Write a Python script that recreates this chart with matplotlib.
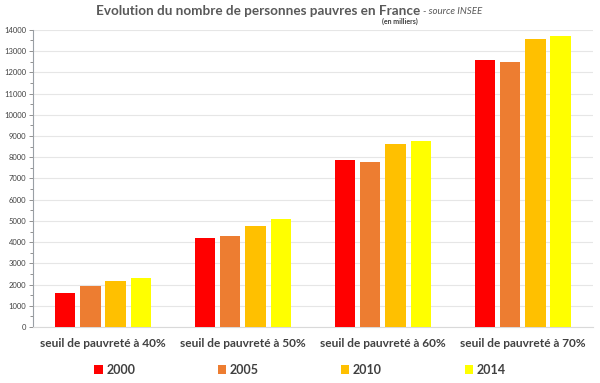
import matplotlib.pyplot as plt
import numpy as np
from matplotlib.ticker import MultipleLocator

plt.rcParams['font.family'] = ['Lato', 'DejaVu Sans']

categories = ["seuil de pauvreté à 40%", "seuil de pauvreté à 50%",
              "seuil de pauvreté à 60%", "seuil de pauvreté à 70%"]
years = ["2000", "2005", "2010", "2014"]
values = {
    "2000": [1600, 4200, 7880, 12600],
    "2005": [1930, 4290, 7780, 12500],
    "2010": [2150, 4760, 8630, 13590],
    "2014": [2300, 5090, 8770, 13730],
}
colors = ["#ff0000", "#ed7d31", "#ffc000", "#ffff00"]

fig = plt.figure(figsize=(6, 3.83), dpi=100)
ax = fig.add_axes([0.055, 0.146, 0.933, 0.776])

x = np.arange(len(categories))
width = 0.145
step = 0.18
for i, year in enumerate(years):
    ax.bar(x + (i - 1.5) * step, values[year], width, color=colors[i], label=year, zorder=3)

ax.set_xlim(-0.5, 3.5)
ax.set_ylim(0, 14000)
ax.yaxis.set_major_locator(MultipleLocator(1000))
ax.yaxis.set_minor_locator(MultipleLocator(500))
ax.grid(axis='y', color='#e6e6e6', linewidth=0.8, zorder=0)
ax.tick_params(axis='y', which='major', labelsize=5.5, length=3, width=0.6, pad=2,
               colors='#808080', labelcolor='#404040')
ax.tick_params(axis='y', which='minor', length=2, width=0.6, color='#808080')
ax.tick_params(axis='x', length=0, pad=8)
ax.set_xticks(x)
ax.set_xticklabels(categories, fontsize=8.6, fontweight='bold', color='#404040')
for s in ['top', 'right']:
    ax.spines[s].set_visible(False)
ax.spines['left'].set_color('#9aa0a6')
ax.spines['bottom'].set_color('#d9d9d9')

fig.text(0.70, 0.972, "Evolution du nombre de personnes pauvres en France", ha='right',
         va='center', fontsize=9.7, fontweight='bold', color='#595959')
fig.text(0.705, 0.970, "- source INSEE", ha='left', va='center', fontsize=7,
         style='italic', color='#595959')
fig.text(0.667, 0.943, "(en milliers)", ha='center', va='center', fontsize=5,
         fontweight='bold', color='#404040')

leg = fig.legend(loc='center', bbox_to_anchor=(0.5, 0.034), ncol=4, frameon=False,
                 fontsize=9, handlelength=0.65, handleheight=0.65, columnspacing=6.6,
                 handletextpad=0.3)
for t in leg.get_texts():
    t.set_fontweight('bold')
    t.set_color('#404040')

fig.savefig("out.png", dpi=100)
